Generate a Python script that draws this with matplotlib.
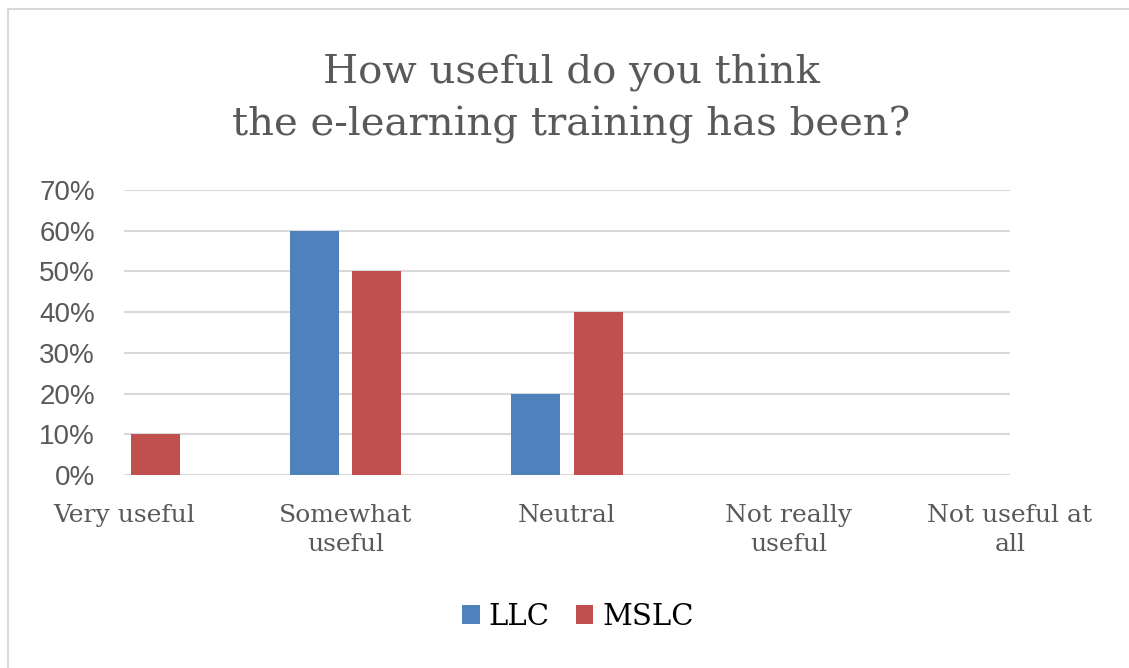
import numpy as np
import matplotlib.pyplot as plt
from matplotlib.patches import Patch
from matplotlib.lines import Line2D

categories = ["Very useful", "Somewhat\nuseful", "Neutral", "Not really\nuseful", "Not useful at\nall"]
llc = [0.0, 0.60, 0.20, 0.0, 0.0]
mslc = [0.10, 0.50, 0.40, 0.0, 0.0]
yticks = [0.0, 0.1, 0.2, 0.3, 0.4, 0.5, 0.6, 0.7]
ytick_labels = ["0%", "10%", "20%", "30%", "40%", "50%", "60%", "70%"]

BLUE = "#4F81BD"
RED = "#C0504D"
GRID = "#D9D9D9"
TEXT = "#595959"
SERIF = "DejaVu Serif"
SANS = "Liberation Sans"

W, H = 1129, 668
fig = plt.figure(figsize=(W / 100, H / 100), dpi=100)
fig.patch.set_facecolor("white")

# outer chart frame (only top and left edges fall inside the canvas)
fig.add_artist(Line2D([8 / W, 8 / W], [0, 1 - 9 / H], color=GRID, lw=1.5))
fig.add_artist(Line2D([8 / W, 1], [1 - 9 / H, 1 - 9 / H], color=GRID, lw=1.5))

ax = fig.add_axes([124 / W, 1 - 475 / H, (1010 - 124) / W, (475 - 190) / H])

x = np.arange(len(categories))
width = 0.221
offset = 0.142
ax.bar(x - offset, llc, width, color=BLUE, label="LLC", zorder=3)
ax.bar(x + offset, mslc, width, color=RED, label="MSLC", zorder=3)

ax.set_xlim(0, len(categories) - 1)
ax.set_ylim(0, 0.7)
ax.set_yticks(yticks)
ax.set_yticklabels(ytick_labels, fontfamily=SANS, fontsize=20, color=TEXT)
ax.set_xticks(x)
ax.set_xticklabels(categories, fontfamily=SERIF, fontsize=18, color=TEXT,
                   linespacing=1.32)
ax.tick_params(axis="y", length=0, pad=21)
ax.tick_params(axis="x", length=0, pad=21)

ax.grid(axis="y", color=GRID, lw=1.5, zorder=0)
ax.set_axisbelow(True)
for side in ["top", "right", "left", "bottom"]:
    ax.spines[side].set_visible(False)

fig.text(571 / W, 1 - 83 / H, "How useful do you think", ha="center", va="baseline",
         fontfamily=SERIF, fontsize=29, color=TEXT)
fig.text(571 / W, 1 - 135 / H, "the e-learning training has been?", ha="center",
         va="baseline", fontfamily=SERIF, fontsize=29, color=TEXT)

handles = [Patch(facecolor=BLUE, label="LLC"), Patch(facecolor=RED, label="MSLC")]
fig.legend(handles=handles, loc="center", bbox_to_anchor=(578 / W, 1 - 617 / H),
           ncol=2, frameon=False, prop={"family": SERIF, "size": 21},
           handlelength=0.6, handleheight=0.6, handletextpad=0.3,
           columnspacing=0.9, borderpad=0)

fig.savefig("out.png", dpi=100)
